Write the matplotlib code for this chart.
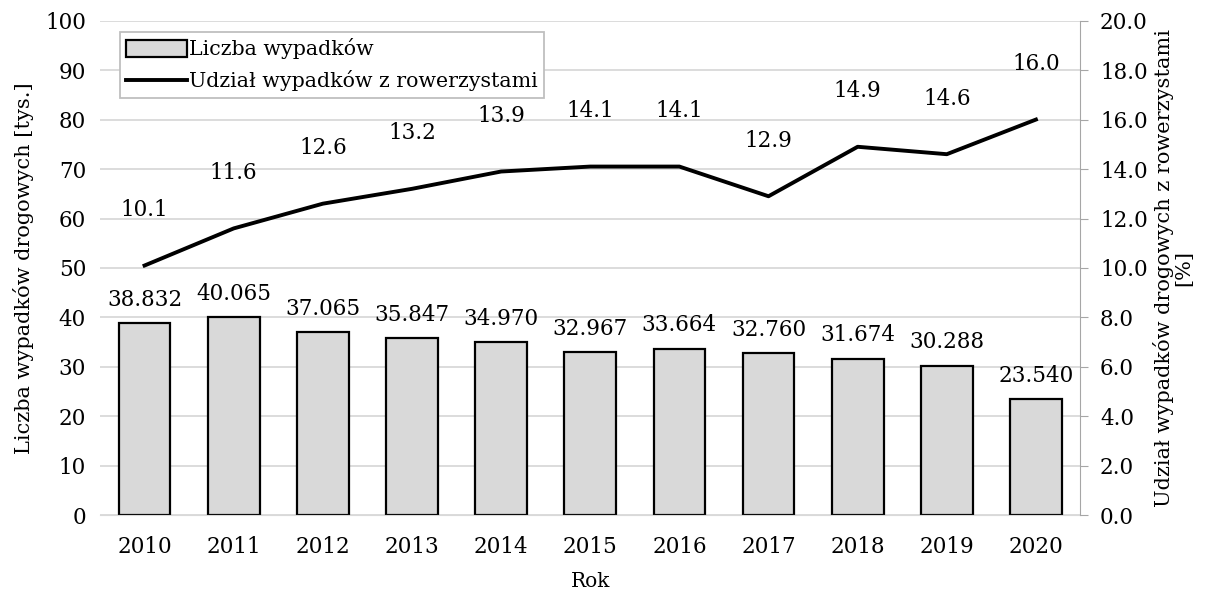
import matplotlib.pyplot as plt
import numpy as np

plt.rcParams['font.family'] = 'DejaVu Serif'

years = ['2010', '2011', '2012', '2013', '2014', '2015', '2016', '2017', '2018', '2019', '2020']
accidents = [38.832, 40.065, 37.065, 35.847, 34.970, 32.967, 33.664, 32.760, 31.674, 30.288, 23.540]
cyclist_share = [10.1, 11.6, 12.6, 13.2, 13.9, 14.1, 14.1, 12.9, 14.9, 14.6, 16.0]

fig = plt.figure(figsize=(12.12, 5.89), dpi=100)
ax = fig.add_axes([0.0825, 0.125, 0.809, 0.84])
ax2 = ax.twinx()

x = np.arange(len(years))
bars = ax.bar(x, accidents, width=0.58, color='#d9d9d9', edgecolor='black', linewidth=1.6,
              label='Liczba wypadków', zorder=2)
line, = ax2.plot(x, cyclist_share, color='black', linewidth=2.8,
                 label='Udział wypadków z rowerzystami', zorder=3)

# value labels
for xi, v in zip(x, accidents):
    ax.text(xi, v + 2.5, f'{v:.3f}', ha='center', va='bottom', fontsize=15.5)
for xi, v in zip(x, cyclist_share):
    ax2.text(xi, v + 1.8, f'{v:.1f}', ha='center', va='bottom', fontsize=15.5)

ax.set_xlim(-0.5, len(years) - 0.5)
ax.set_ylim(0, 100)
ax.set_yticks(range(0, 101, 10))
ax2.set_ylim(0, 20)
ax2.set_yticks(np.arange(0, 20.1, 2))
ax2.set_yticklabels([f'{t:.1f}' for t in np.arange(0, 20.1, 2)])

ax.set_xticks(x)
ax.set_xticklabels(years)
ax.yaxis.grid(True, color='#d9d9d9', linewidth=1.3, zorder=0)
ax.set_axisbelow(True)

for a in (ax, ax2):
    for s in ('top', 'left', 'right', 'bottom'):
        a.spines[s].set_visible(False)
    a.tick_params(labelsize=15.5)
ax.spines['bottom'].set_visible(True)
ax.spines['bottom'].set_color('#d9d9d9')
ax.tick_params(axis='y', length=0, pad=10)
ax.tick_params(axis='x', length=0, pad=15)
ax2.spines['right'].set_visible(True)
ax2.spines['right'].set_color('#a6a6a6')
ax2.tick_params(axis='y', length=6, color='#a6a6a6', pad=8)

ax.set_xlabel('Rok', fontsize=14.5, labelpad=10)
ax.set_ylabel('Liczba wypadków drogowych [tys.]', fontsize=15, labelpad=8)
ax2.set_ylabel('Udział wypadków drogowych z rowerzystami\n[%]', fontsize=15, labelpad=4,
               linespacing=1.0)

leg = ax.legend([bars, line], ['Liczba wypadków', 'Udział wypadków z rowerzystami'],
                loc='upper left', bbox_to_anchor=(0.02, 0.977), fontsize=14.8,
                frameon=True, fancybox=False, edgecolor='#bfbfbf', framealpha=1,
                handlelength=3.0, handleheight=0.9, handletextpad=0.1,
                borderpad=0.3, borderaxespad=0, labelspacing=0.55)
leg.get_frame().set_linewidth(1.3)
leg.set_zorder(5)

fig.savefig('out.png', dpi=100)
